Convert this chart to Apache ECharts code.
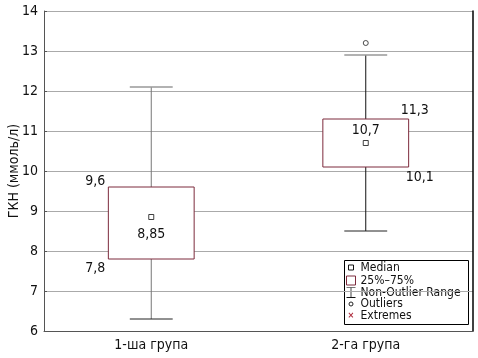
<!DOCTYPE html>
<html><head><meta charset="utf-8">
<script src="https://cdn.jsdelivr.net/npm/echarts@6/dist/echarts.min.js"></script>
<style>html,body{margin:0;padding:0;background:#fff}#c{width:478px;height:358px}</style>
</head><body><div id="c"></div>
<script>
const categories = ['1-ша група', '2-га група'];
const whiskerLow = [6.3, 8.5];
const q1 = [7.8, 10.1];
const median = [8.85, 10.7];
const q3 = [9.6, 11.3];
const whiskerHigh = [12.1, 12.9];
const outliers = [[1, 13.2]];
const q1Labels = ['7,8', '10,1'];
const medianLabels = ['8,85', '10,7'];
const q3Labels = ['9,6', '11,3'];
const yTicks = [6, 7, 8, 9, 10, 11, 12, 13, 14];

const FONT = '"DejaVu Sans Condensed", "Liberation Sans Narrow", "Liberation Sans", Arial, sans-serif';
const boxColor = '#7d2a3c';

const chart = echarts.init(document.getElementById('c'), null, {renderer: 'canvas'});
const boxData = categories.map((c, i) => [i, whiskerLow[i], q1[i], median[i], q3[i], whiskerHigh[i]]);

function renderBox(params, api) {
  const i = api.value(0);
  const band = api.size([1, 0])[0];
  const bw = band * 0.4, cw = band * 0.2;
  const pLow = api.coord([i, api.value(1)]);
  const pQ1 = api.coord([i, api.value(2)]);
  const pQ3 = api.coord([i, api.value(4)]);
  const pHigh = api.coord([i, api.value(5)]);
  const x = pLow[0];
  const ls = {stroke: '#222', lineWidth: 1};
  const first = i === 0;
  return {
    type: 'group',
    children: [
      {type: 'line', shape: {x1: x, y1: pHigh[1], x2: x, y2: pQ3[1]}, style: {stroke: first ? '#777' : '#111', lineWidth: 1}},
      {type: 'line', shape: {x1: x, y1: pQ1[1], x2: x, y2: pLow[1]}, style: {stroke: first ? '#777' : '#111', lineWidth: 1}},
      {type: 'line', shape: {x1: x - cw / 2, y1: pHigh[1], x2: x + cw / 2, y2: pHigh[1]}, style: {stroke: '#999', lineWidth: 1.5}},
      {type: 'line', shape: {x1: x - cw / 2, y1: pLow[1], x2: x + cw / 2, y2: pLow[1]}, style: ls},
      {type: 'rect', shape: {x: x - bw / 2, y: pQ3[1], width: bw, height: pQ1[1] - pQ3[1]}, style: {fill: '#fff', stroke: boxColor, lineWidth: 1}},
    ]
  };
}

function renderLabels(params, api) {
  const i = api.value(0);
  const band = api.size([1, 0])[0];
  const bw = band * 0.4;
  const pQ1 = api.coord([i, api.value(1)]);
  const pMed = api.coord([i, api.value(2)]);
  const pQ3 = api.coord([i, api.value(3)]);
  const x = pQ1[0];
  const font = '14px ' + FONT;
  const t = (tx, ty, text, align) => ({type: 'text', style: {x: tx, y: ty, text: text, font: font, fill: '#111', align: align, verticalAlign: 'middle'}});
  if (i === 0) {
    return {type: 'group', children: [
      t(x - bw / 2 - 3, pQ3[1] - 6, q3Labels[i], 'right'),
      t(x - bw / 2 - 3, pQ1[1] + 9, q1Labels[i], 'right'),
      t(x, pMed[1] + 17, medianLabels[i], 'center')
    ]};
  }
  return {type: 'group', children: [
    t(x + bw / 2 + 6, pQ3[1] - 9, q3Labels[i], 'center'),
    t(x + bw / 2 + 11, pQ1[1] + 10, q1Labels[i], 'center'),
    t(x, pMed[1] - 13, medianLabels[i], 'center')
  ]};
}

const labelData = categories.map((c, i) => [i, q1[i], median[i], q3[i]]);

chart.setOption({
  animation: false,
  backgroundColor: '#fff',
  grid: {left: 44, top: 11, right: 5, bottom: 27, containLabel: false, outerBoundsMode: 'none'},
  xAxis: {
    type: 'category', data: categories, boundaryGap: true,
    axisLine: {lineStyle: {color: '#555'}},
    axisTick: {inside: true, alignWithLabel: true, length: 4, lineStyle: {color: '#555'}},
    axisLabel: {fontFamily: FONT, fontSize: 14, color: '#111', margin: 7},
    splitLine: {show: false}
  },
  yAxis: [{
    type: 'value', min: 6, max: 14, interval: 1,
    name: 'ГКН (ммоль/л)', nameLocation: 'middle', nameGap: 23, nameMoveOverlap: false,
    nameTextStyle: {fontFamily: FONT, fontSize: 14, color: '#111', verticalAlign: 'bottom'},
    axisLine: {show: true, lineStyle: {color: '#555'}},
    axisTick: {show: true, inside: true, length: 3, lineStyle: {color: '#555'}},
    axisLabel: {fontFamily: FONT, fontSize: 14, color: '#111', margin: 6,
      formatter: v => yTicks.includes(v) ? String(v) : ''},
    splitLine: {show: true, lineStyle: {color: '#aaa', width: 1}}
  }, {
    type: 'value', min: 6, max: 14, interval: 1, position: 'right',
    axisLine: {show: true, lineStyle: {color: '#000', width: 1.5}},
    axisTick: {show: false}, axisLabel: {show: false}, splitLine: {show: false}
  }],
  series: [
    {type: 'custom', renderItem: renderBox, data: boxData, encode: {x: 0, y: [1, 2, 3, 4, 5]}, z: 2},
    {type: 'scatter', data: median.map((m, i) => [i, m]), symbol: 'rect', symbolSize: 5,
      itemStyle: {color: '#fff', borderColor: '#111', borderWidth: 1}, z: 3},
    {type: 'scatter', data: outliers, symbol: 'circle', symbolSize: 5,
      itemStyle: {color: '#fff', borderColor: '#222', borderWidth: 1}, z: 3},
    {type: 'custom', renderItem: renderLabels, data: labelData, encode: {x: 0, y: [1, 2, 3]}, z: 4}
  ],
  graphic: [{
    type: 'group', left: 344, top: 260,
    children: [
      {type: 'rect', shape: {x: 0, y: 0, width: 124, height: 64}, style: {fill: '#fff', stroke: '#000', lineWidth: 1}},
      {type: 'rect', shape: {x: 4, y: 4.5, width: 5, height: 5}, style: {fill: '#fff', stroke: '#111', lineWidth: 1}},
      {type: 'text', style: {x: 16, y: 7, text: 'Median', font: '12px ' + FONT, fill: '#111', verticalAlign: 'middle'}},
      {type: 'rect', shape: {x: 2, y: 15.5, width: 9, height: 9}, style: {fill: '#fff', stroke: boxColor, lineWidth: 1}},
      {type: 'text', style: {x: 16, y: 20, text: '25%–75%', font: '12px ' + FONT, fill: '#111', verticalAlign: 'middle'}},
      {type: 'line', shape: {x1: 2, y1: 27, x2: 11, y2: 27}, style: {stroke: '#777', lineWidth: 1}},
      {type: 'line', shape: {x1: 6.5, y1: 27, x2: 6.5, y2: 37}, style: {stroke: '#444', lineWidth: 1}},
      {type: 'line', shape: {x1: 2, y1: 37, x2: 11, y2: 37}, style: {stroke: '#111', lineWidth: 1}},
      {type: 'text', style: {x: 16, y: 32, text: 'Non-Outlier Range', font: '12px ' + FONT, fill: '#111', verticalAlign: 'middle'}},
      {type: 'circle', shape: {cx: 6.5, cy: 43.5, r: 2}, style: {fill: '#fff', stroke: '#222', lineWidth: 1}},
      {type: 'text', style: {x: 16, y: 43.5, text: 'Outliers', font: '12px ' + FONT, fill: '#111', verticalAlign: 'middle'}},
      {type: 'text', style: {x: 6.5, y: 55.5, text: '×', font: 'bold 9px ' + FONT, fill: '#b03040', align: 'center', verticalAlign: 'middle'}},
      {type: 'text', style: {x: 16, y: 55.5, text: 'Extremes', font: '12px ' + FONT, fill: '#111', verticalAlign: 'middle'}}
    ]
  }]
});
</script></body></html>
